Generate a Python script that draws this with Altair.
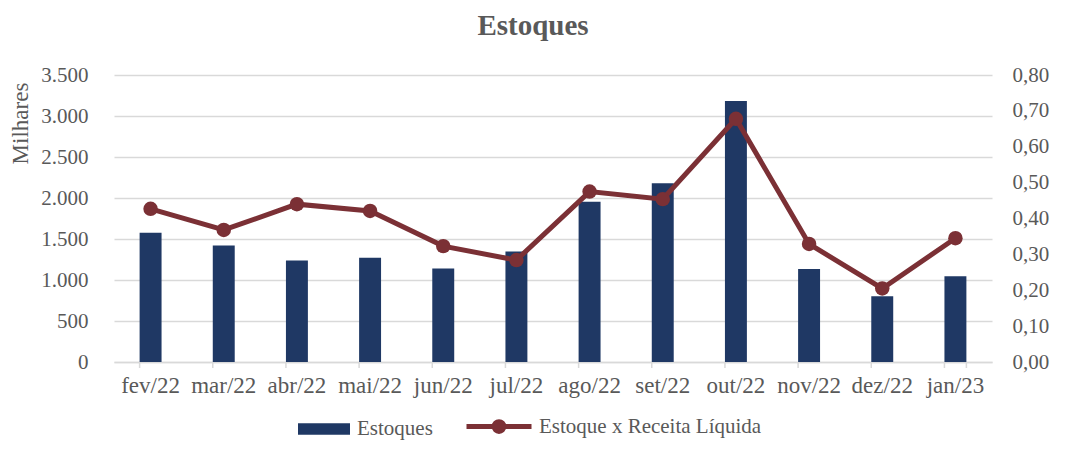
import altair as alt
import pandas as pd

meses = ["fev/22", "mar/22", "abr/22", "mai/22", "jun/22", "jul/22",
         "ago/22", "set/22", "out/22", "nov/22", "dez/22", "jan/23"]
estoques = [1576, 1422, 1239, 1271, 1141, 1349, 1955, 2180, 3182, 1133, 803, 1047]
razao = [0.427, 0.368, 0.440, 0.421, 0.323, 0.284, 0.475, 0.454, 0.678, 0.329, 0.205, 0.345]
ticks_esq = [0, 500, 1000, 1500, 2000, 2500, 3000, 3500]
ticks_dir = [0.0, 0.1, 0.2, 0.3, 0.4, 0.5, 0.6, 0.7, 0.8]
serie_barra = "Estoques"
serie_linha = "Estoque x Receita Líquida"

df = pd.DataFrame({"mes": meses, "estoques": estoques, "razao": razao,
                   "sb": [serie_barra] * len(meses), "sl": [serie_linha] * len(meses)})

FONT = "Liberation Serif"
GRAY = "#595959"
GRID = "#D9D9D9"
NAVY = "#1F3864"
WINE = "#7B3035"
W, H = 878, 287

xscale = alt.Scale(domain=meses, paddingInner=0.7, paddingOuter=0.35)
xaxis = alt.Axis(title=None, labelAngle=0, labelFont=FONT, labelFontSize=23,
                 labelColor=GRAY, labelPadding=12, ticks=False,
                 domainColor=GRID, domainWidth=1.5, grid=False)


def xenc(bp=None):
    if bp is None:
        return alt.X("mes:N", scale=xscale, axis=xaxis, sort=meses)
    return alt.X("mes:N", scale=xscale, axis=xaxis, sort=meses, bandPosition=bp)


bars = alt.Chart(df).mark_bar(color=NAVY).encode(
    x=xenc(),
    y=alt.Y("estoques:Q", scale=alt.Scale(domain=[0, 3500]),
            axis=alt.Axis(values=ticks_esq, grid=True, gridColor=GRID, gridWidth=1.5,
                          domain=False, ticks=False, labelPadding=26,
                          labelFont=FONT, labelFontSize=21, labelColor=GRAY,
                          labelExpr="replace(format(datum.value, ',.0f'), ',', '.')",
                          title="Milhares", titleFont=FONT, titleFontSize=23,
                          titleFontWeight="normal", titleColor=GRAY,
                          titleAngle=270, titleAlign="center", titleBaseline="middle",
                          titleX=-94, titleY=48)),
    color=alt.Color("sb:N",
                    scale=alt.Scale(domain=[serie_barra], range=[NAVY]),
                    legend=alt.Legend(title=None, orient="none", legendX=183, legendY=327,
                                      symbolType="M-1,-0.22H1V0.22H-1Z", symbolSize=2704,
                                      labelFont=FONT, labelFontSize=21, labelColor=GRAY,
                                      labelOffset=6, padding=0, labelLimit=400)),
)

yright = alt.Y("razao:Q", scale=alt.Scale(domain=[0, 0.8]),
               axis=alt.Axis(orient="right", values=ticks_dir, grid=False, domain=False,
                             ticks=False, labelPadding=20, labelFont=FONT, labelFontSize=21,
                             labelColor=GRAY, title=None,
                             labelExpr="replace(format(datum.value, '.2f'), '.', ',')"))

line = alt.Chart(df).mark_line(strokeWidth=5).encode(
    x=xenc(),
    y=yright,
    stroke=alt.Stroke("sl:N",
                      scale=alt.Scale(domain=[serie_linha], range=[WINE]),
                      legend=alt.Legend(title=None, orient="none", legendX=350, legendY=316.5,
                                        symbolType="M-1,0H1M-0.15,0A0.15,0.15 0 1 1 0.15,0A0.15,0.15 0 1 1 -0.15,0M-0.06,0A0.06,0.06 0 1 1 0.06,0A0.06,0.06 0 1 1 -0.06,0",
                                        symbolSize=4225, symbolStrokeWidth=5,
                                        labelFont=FONT, labelFontSize=21, labelColor=GRAY,
                                        labelOffset=5, padding=0, labelLimit=400)),
)
points = alt.Chart(df).mark_circle(size=210, color=WINE, opacity=1).encode(
    x=xenc(),
    y=yright,
)
line_layer = alt.layer(line, points)

tick_rules = alt.Chart(df).mark_rule(color=GRID, strokeWidth=1.5).encode(
    x=xenc(0), y=alt.value(H), y2=alt.value(H + 6))
tick_last = alt.Chart(df).transform_filter(alt.datum.mes == meses[-1]).mark_rule(
    color=GRID, strokeWidth=1.5).encode(
    x=xenc(1), y=alt.value(H), y2=alt.value(H + 6))

chart = alt.layer(bars, tick_rules, tick_last, line_layer).resolve_scale(
    y="independent"
).properties(
    width=W, height=H,
    title=alt.TitleParams("Estoques", font=FONT, fontSize=29, fontWeight="bold",
                          color=GRAY, anchor="middle", dx=-20, offset=23),
    autosize=alt.AutoSizeParams(type="none"),
    padding={"left": 106, "top": 67, "right": 72, "bottom": 80},
    background="white",
).configure(font=FONT).configure_view(stroke=None).configure_legend(
    labelFont=FONT, labelColor=GRAY
)

chart.save("out.html", embed_options={"renderer": "svg", "actions": False})
